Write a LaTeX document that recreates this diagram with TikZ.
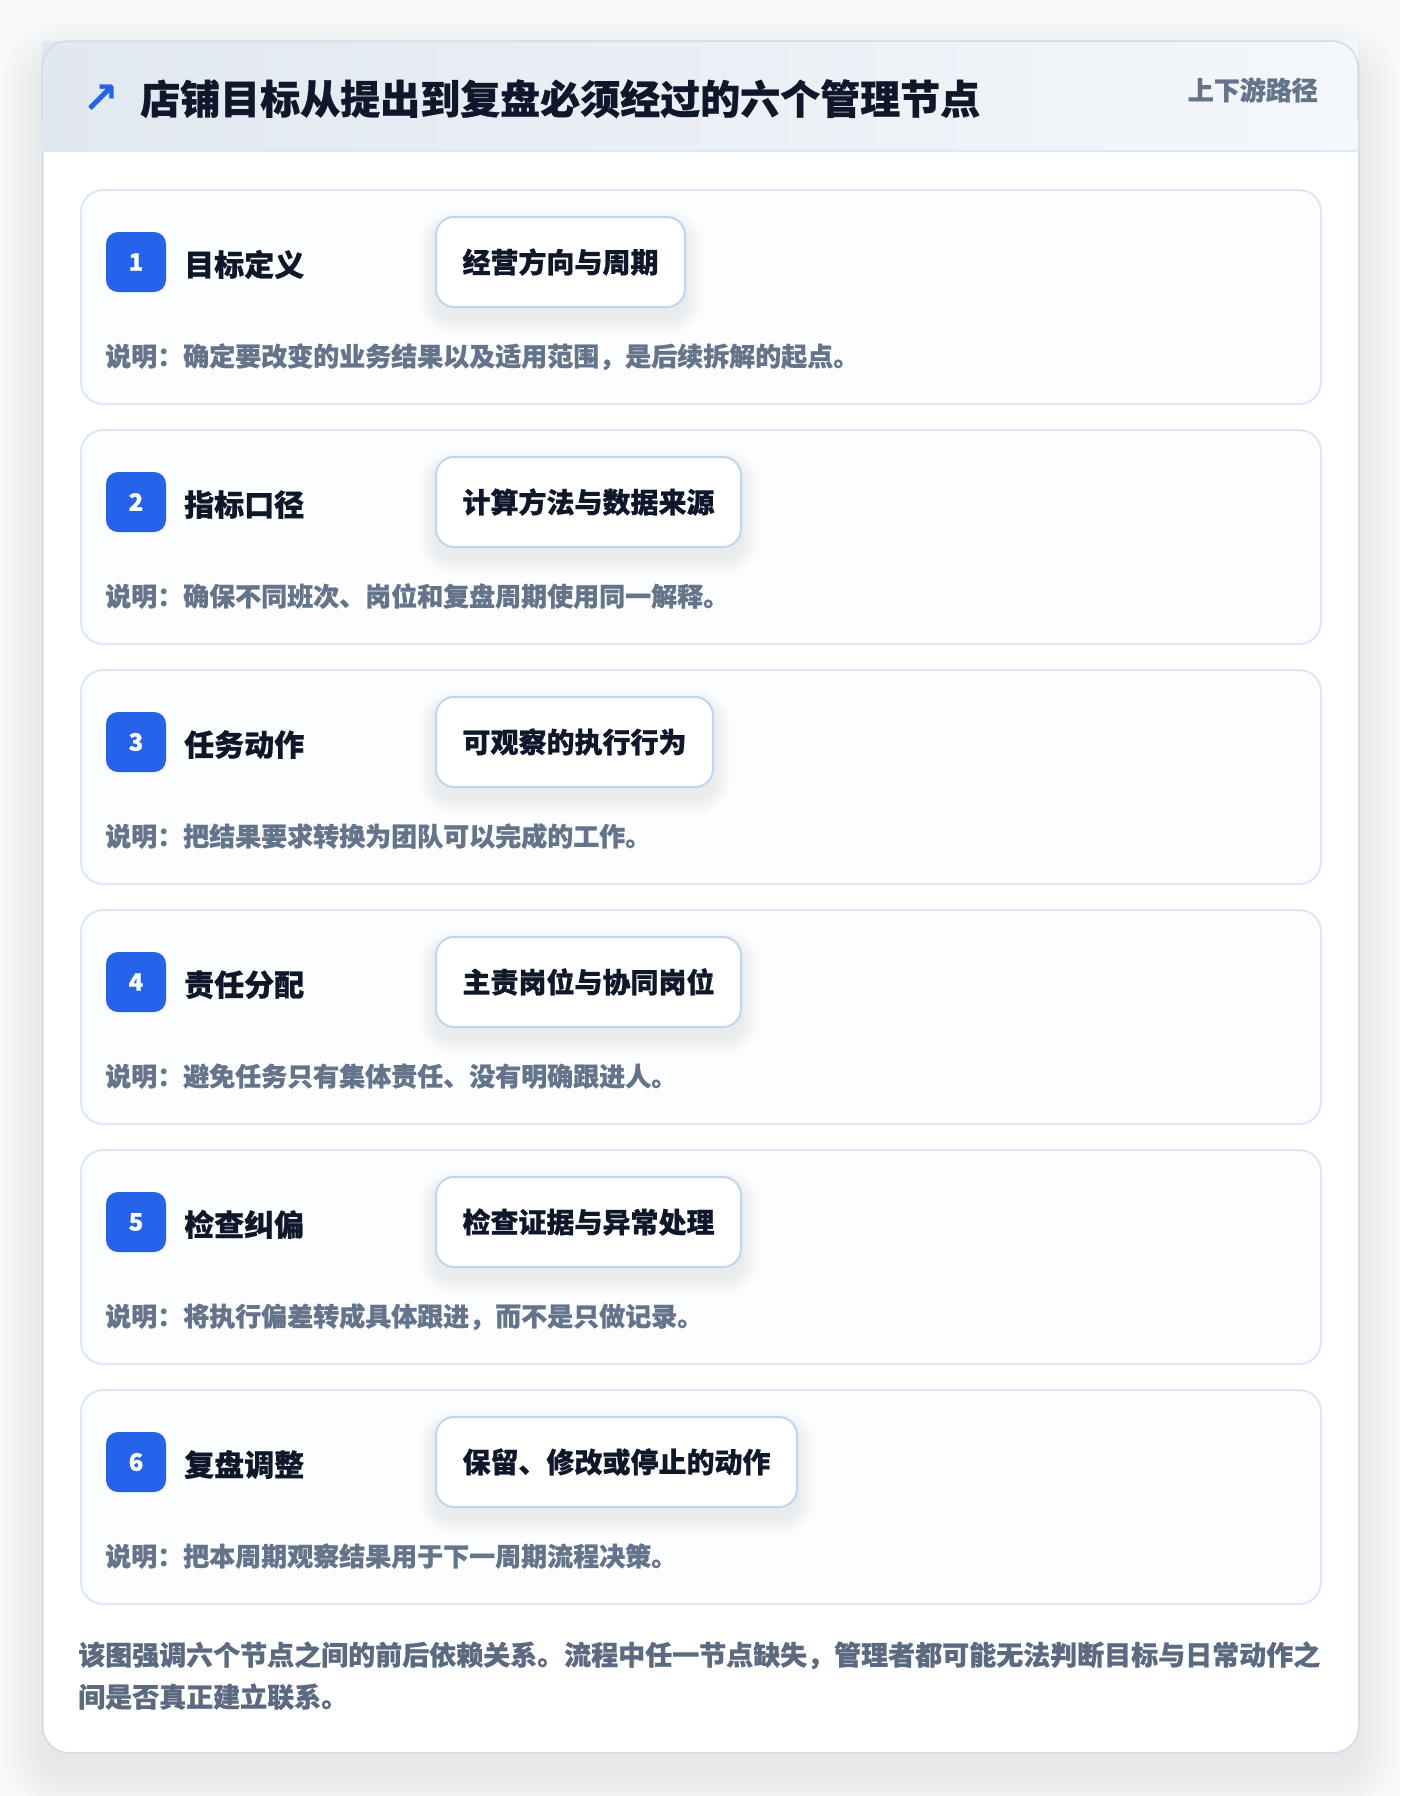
\documentclass[tikz,border=0pt]{standalone}
\usepackage{fontspec}
\setmainfont{Noto Sans CJK SC}[BoldFeatures={FakeBold=0.7}]
\newfontfamily\symfont{DejaVu Sans}
\definecolor{pagebg}{HTML}{F7F8FA}
\definecolor{outerline}{HTML}{D3DBE6}
\definecolor{headl}{HTML}{E2E8F0}
\definecolor{headr}{HTML}{F4F7FB}
\definecolor{headline}{HTML}{DCE8F7}
\definecolor{cardline}{HTML}{DCE8F8}
\definecolor{cardfill}{HTML}{FCFDFF}
\definecolor{tagline}{HTML}{BFD6F3}
\definecolor{badgeblue}{HTML}{2563EB}
\definecolor{inkc}{HTML}{0F172A}
\definecolor{descc}{HTML}{64748B}
\definecolor{notec}{HTML}{5B6A80}
\pgfdeclarelayer{base}
\pgfdeclarelayer{tagshadow}
\pgfsetlayers{base,tagshadow,main}
\begin{document}
\begin{tikzpicture}[x=1pt,y=-1pt,
  outercard/.style={draw=outerline, line width=1.5pt, fill=white, rounded corners=26pt},
  stepcard/.style={draw=cardline, line width=2pt, fill=cardfill, rounded corners=22pt,
    minimum width=1240pt, minimum height=214pt, anchor=north west, inner sep=0pt},
  badge/.style={fill=badgeblue, rounded corners=12pt, minimum size=60pt, inner sep=0pt,
    text=white, font=\bfseries\fontsize{24}{26}\selectfont},
  steptitle/.style={anchor=base west, inner sep=0pt, text=inkc, font=\bfseries\fontsize{30}{36}\selectfont},
  tagbox/.style={draw=tagline, line width=2pt, fill=white, rounded corners=18pt,
    minimum height=90pt, inner xsep=26.5pt, anchor=west, text=inkc,
    font=\bfseries\fontsize{28}{34}\selectfont},
  desctext/.style={anchor=base west, inner sep=0pt, text=descc, font=\bfseries\fontsize{26}{32}\selectfont},
  notetext/.style={anchor=base west, inner sep=0pt, text=notec, font=\bfseries\fontsize{27}{40}\selectfont},
  softshadow/.style={fill=black, opacity=#1}
]
\useasboundingbox (0,0) rectangle (1400,1796);
\begin{pgfonlayer}{base}
\fill[pagebg] (0,0) rectangle (1400,1796);
% outer card shadow
\foreach \k in {1,...,16}{
  \pgfmathsetmacro{\rr}{26+\k*2.5}
  \pgfmathsetmacro{\ee}{\k*2.5}
  \fill[softshadow=0.005, rounded corners=\rr pt] (42-\ee,62-\ee) rectangle (1358+\ee,1772+\ee);
}
% outer card
\node[outercard, minimum width=1316pt, minimum height=1711pt, anchor=north west, inner sep=0pt] (outer) at (42,41) {};
% header band
\shade[left color=headl, right color=headr] (42,41) rectangle (1358,151);
\draw[headline, line width=2pt] (43,151) -- (1357,151);
\draw[outerline, line width=1.5pt, rounded corners=26pt] (42,120) -- (42,41) -- (1358,41) -- (1358,120);
\end{pgfonlayer}

\node[inner sep=0pt, text=badgeblue, font=\symfont\bfseries\fontsize{44}{48}\selectfont] (icon) at (101,99) {↗};
\node[anchor=base west, inner sep=0pt, text=inkc, font=\bfseries\fontsize{40}{46}\selectfont] (title) at (140,114) {店铺目标从提出到复盘必须经过的六个管理节点};
\node[anchor=base east, inner sep=0pt, text=descc, font=\bfseries\fontsize{26}{30}\selectfont] (sub) at (1318,100) {上下游路径};

\foreach \i/\ttl/\tg/\ds in {
  1/目标定义/经营方向与周期/说明：确定要改变的业务结果以及适用范围，是后续拆解的起点。,
  2/指标口径/计算方法与数据来源/说明：确保不同班次、岗位和复盘周期使用同一解释。,
  3/任务动作/可观察的执行行为/说明：把结果要求转换为团队可以完成的工作。,
  4/责任分配/主责岗位与协同岗位/说明：避免任务只有集体责任、没有明确跟进人。,
  5/检查纠偏/检查证据与异常处理/说明：将执行偏差转成具体跟进，而不是只做记录。,
  6/复盘调整/保留、修改或停止的动作/说明：把本周期观察结果用于下一周期流程决策。}{
  \pgfmathsetmacro{\T}{189+240*(\i-1)}
  \begin{pgfonlayer}{base}
  \node[stepcard] (card\i) at (80,\T) {};
  \end{pgfonlayer}
  \node[badge] (badge\i) at (136,\T+73) {\i};
  \node[steptitle] (ttl\i) at (184,\T+87) {\ttl};
  \node[tagbox] (tag\i) at (435,\T+73) {\tg};
  \node[desctext] (desc\i) at (105,\T+177) {\ds};
  \begin{pgfonlayer}{tagshadow}
  \foreach \k in {1,...,9}{
    \pgfmathsetmacro{\rr}{18+\k*1.8}
    \pgfmathsetmacro{\ee}{\k*1.8}
    \fill[softshadow=0.007, rounded corners=\rr pt]
      ([xshift=-\ee pt, yshift=-10pt+\ee pt]tag\i.north west) rectangle
      ([xshift=\ee pt, yshift=-10pt-\ee pt]tag\i.south east);
  }
  \end{pgfonlayer}
}

\node[notetext] (note1) at (78,1665) {该图强调六个节点之间的前后依赖关系。流程中任一节点缺失，管理者都可能无法判断目标与日常动作之};
\node[notetext] (note2) at (78,1707) {间是否真正建立联系。};
\end{tikzpicture}
\end{document}
